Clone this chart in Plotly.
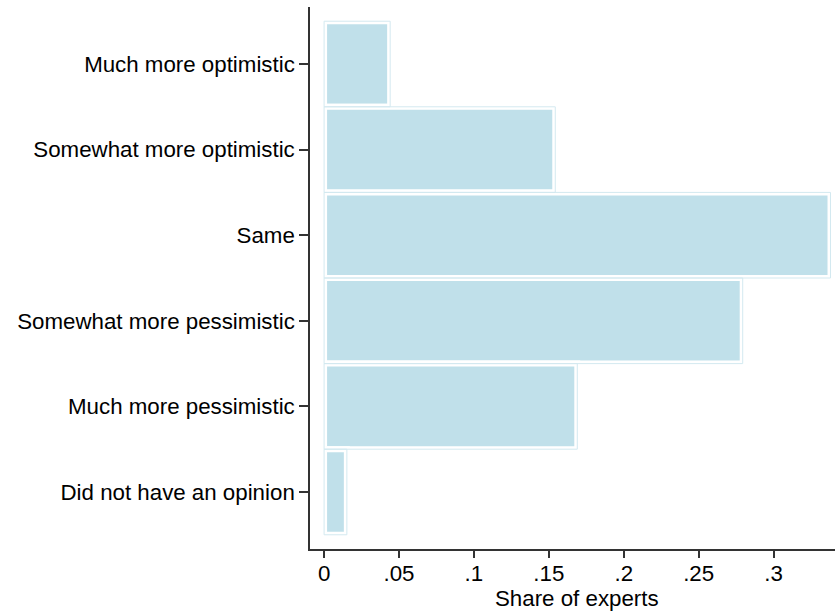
import plotly.graph_objects as go

categories = ["Much more optimistic", "Somewhat more optimistic", "Same",
              "Somewhat more pessimistic", "Much more pessimistic", "Did not have an opinion"]
shares = [0.0441, 0.1543, 0.3380, 0.2794, 0.1690, 0.0152]
x_tickvals = [0, 0.05, 0.1, 0.15, 0.2, 0.25, 0.3]
x_ticktext = ["0", ".05", ".1", ".15", ".2", ".25", ".3"]
x_title = "Share of experts"

pos = list(range(len(categories)))
FILL = "#c0e0ea"
EDGE = "#d3e9f0"
FONT = "Liberation Sans, Arial, sans-serif"

fig = go.Figure()
fig.add_trace(go.Bar(
    x=shares, y=pos, orientation="h", width=1.0,
    marker=dict(color=FILL, line=dict(color="white", width=6)),
    hoverinfo="skip", showlegend=False,
))
fig.add_trace(go.Bar(
    x=shares, y=pos, orientation="h", width=1.0,
    marker=dict(color="rgba(0,0,0,0)", line=dict(color=EDGE, width=1)),
    showlegend=False,
))

fig.add_annotation(
    text=x_title, xref="paper", yref="paper", x=0.509, y=-0.092,
    xanchor="center", yanchor="middle", showarrow=False,
    font=dict(family=FONT, size=22.3, color="black"),
)

fig.update_layout(
    width=835, height=611,
    margin=dict(l=310, r=0, t=7, b=62),
    plot_bgcolor="white", paper_bgcolor="white",
    barmode="overlay",
    font=dict(family=FONT, size=22.3, color="black"),
    xaxis=dict(
        range=[-0.0094, 0.341], automargin=False,
        tickvals=x_tickvals, ticktext=x_ticktext,
        showgrid=False, zeroline=False,
        showline=True, linecolor="#333", linewidth=1.5,
        ticks="outside", ticklen=7, tickcolor="#333", tickwidth=1.5,
        ticklabelstandoff=-4,
    ),
    yaxis=dict(
        range=[5.666, -0.666], automargin=False,
        tickvals=pos, ticktext=categories,
        showgrid=False, zeroline=False,
        showline=True, linecolor="#333", linewidth=1.5,
        ticks="outside", ticklen=9, tickcolor="#333", tickwidth=1.5,
    ),
)

fig.write_html(
    "out.html",
    config={"displayModeBar": False},
    post_script="document.body.style.margin='0';document.body.style.overflow='hidden';",
)
